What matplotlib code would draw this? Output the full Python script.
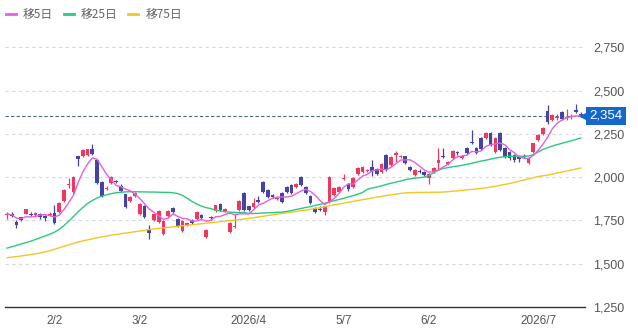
import matplotlib
matplotlib.use("Agg")
import matplotlib.pyplot as plt
import matplotlib.transforms as mtransforms
from matplotlib.lines import Line2D
import numpy as np
import pandas as pd

# daily candles (trading-day index 0..121)
opens = [1780, 1790, 1742, 1768, 1790, 1790, 1782, 1790, 1775, 1782,
         1795, 1800, 1862, 1955, 1913, 2120, 2122, 2128, 2160, 2098,
         1970, 1932, 1965, 1980, 1950, 1900, 1862, 1892, 1788, 1832,
         1694, 1752, 1740, 1671, 1776, 1821, 1758, 1690, 1724, 1745,
         1758, 1780, 1655, 1768, 1805, 1844, 1806, 1683, 1712, 1810,
         1908, 1832, 1828, 1867, 1971, 1925, 1895, 1876, 1908, 1942,
         1954, 1942, 2000, 1942, 1890, 1821, 1818, 1798, 1856, 1896,
         1913, 1990, 1960, 1942, 2017, 2030, 2036, 2058, 2046, 2030,
         2127, 2070, 2128, 2116, 2120, 2058, 2012, 2038, 2030, 1996,
         2030, 2080, 2120, 2075, 2110, 2145, 2112, 2167, 2200, 2167,
         2225, 2225, 2254, 2145, 2254, 2167, 2144, 2127, 2114, 2124,
         2080, 2144, 2213, 2248, 2380, 2330, 2340, 2375, 2342, 2348,
         2386, 2362]
closes = [1788, 1778, 1725, 1750, 1815, 1782, 1792, 1768, 1762, 1788,
          1735, 1850, 1925, 1962, 2000, 2105, 2155, 2160, 2132, 1965,
          1890, 1938, 2000, 1970, 1922, 1828, 1885, 1906, 1844, 1770,
          1677, 1786, 1804, 1746, 1804, 1798, 1717, 1746, 1734, 1737,
          1798, 1765, 1694, 1762, 1838, 1810, 1815, 1735, 1718, 1862,
          1812, 1812, 1850, 1858, 1913, 1886, 1886, 1882, 1858, 1914,
          1910, 1960, 1955, 1910, 1852, 1800, 1812, 1832, 2000, 1937,
          1942, 1998, 1930, 1995, 2052, 2058, 2044, 2036, 2018, 2075,
          2040, 2115, 2138, 2124, 2082, 2042, 2040, 2032, 2012, 2017,
          2052, 2098, 2114, 2088, 2150, 2138, 2120, 2138, 2196, 2140,
          2162, 2254, 2186, 2225, 2157, 2116, 2110, 2100, 2106, 2116,
          2110, 2196, 2242, 2283, 2318, 2358, 2350, 2336, 2350, 2356,
          2375, 2354]
highs = [1800, 1800, 1752, 1772, 1818, 1800, 1798, 1795, 1780, 1800,
         1840, 1855, 1930, 1995, 2005, 2125, 2165, 2165, 2190, 2105,
         1975, 1950, 2005, 1985, 1958, 1905, 1890, 1912, 1850, 1840,
         1725, 1790, 1810, 1750, 1810, 1830, 1765, 1752, 1740, 1760,
         1802, 1785, 1700, 1775, 1842, 1850, 1822, 1740, 1785, 1866,
         1912, 1835, 1880, 1890, 1975, 1930, 1900, 1888, 1912, 1948,
         1960, 1965, 2005, 1948, 1895, 1826, 1835, 1836, 2005, 1942,
         1948, 2020, 1965, 2000, 2060, 2062, 2050, 2098, 2052, 2080,
         2132, 2120, 2150, 2130, 2125, 2062, 2045, 2045, 2035, 2022,
         2058, 2170, 2168, 2095, 2155, 2150, 2126, 2172, 2271, 2172,
         2230, 2260, 2260, 2230, 2260, 2172, 2150, 2132, 2125, 2135,
         2115, 2200, 2248, 2290, 2415, 2365, 2362, 2385, 2395, 2365,
         2420, 2375]
lows = [1760, 1770, 1708, 1745, 1785, 1775, 1770, 1760, 1745, 1775,
        1730, 1795, 1855, 1935, 1905, 2065, 2115, 2120, 2128, 1960,
        1885, 1925, 1958, 1965, 1915, 1822, 1855, 1888, 1782, 1765,
        1642, 1745, 1735, 1665, 1770, 1795, 1712, 1685, 1718, 1730,
        1752, 1760, 1648, 1755, 1800, 1805, 1800, 1678, 1705, 1805,
        1805, 1805, 1822, 1850, 1908, 1880, 1880, 1870, 1852, 1908,
        1905, 1938, 1950, 1905, 1845, 1795, 1805, 1780, 1850, 1890,
        1908, 1982, 1922, 1938, 2012, 2025, 2030, 2006, 2012, 2024,
        2035, 2064, 2085, 2110, 2075, 2035, 2006, 2025, 2005, 1962,
        2024, 2050, 2108, 2068, 2105, 2130, 2105, 2132, 2190, 2134,
        2155, 2220, 2180, 2140, 2150, 2110, 2100, 2085, 2090, 2108,
        2074, 2138, 2208, 2243, 2305, 2322, 2330, 2330, 2332, 2338,
        2368, 2345]

# 25-day and 75-day averages
ma25 = [1590, 1598, 1606, 1614, 1622, 1630, 1640, 1650, 1660, 1670,
        1682, 1698, 1720, 1745, 1772, 1800, 1825, 1848, 1865, 1880,
        1890, 1898, 1905, 1910, 1913, 1915, 1916, 1916, 1915, 1915,
        1914, 1914, 1913, 1912, 1912, 1910, 1905, 1895, 1878, 1860,
        1845, 1833, 1824, 1818, 1810, 1804, 1800, 1798, 1796, 1795,
        1796, 1790, 1790, 1791, 1793, 1794, 1795, 1797, 1798, 1802,
        1807, 1813, 1819, 1825, 1830, 1837, 1843, 1849, 1857, 1864,
        1871, 1878, 1886, 1893, 1902, 1912, 1930, 1937, 1943, 1950,
        1958, 1965, 1971, 1978, 1985, 1990, 1994, 1997, 2000, 2010,
        2025, 2040, 2050, 2055, 2060, 2064, 2068, 2074, 2080, 2087,
        2093, 2098, 2104, 2110, 2115, 2118, 2120, 2121, 2121, 2121,
        2122, 2130, 2145, 2160, 2170, 2180, 2188, 2195, 2203, 2210,
        2218, 2226]
ma75 = [1535, 1538, 1541, 1545, 1549, 1553, 1557, 1562, 1568, 1575,
        1583, 1592, 1600, 1609, 1617, 1625, 1632, 1638, 1644, 1650,
        1655, 1660, 1665, 1669, 1673, 1677, 1681, 1685, 1689, 1693,
        1697, 1701, 1704, 1707, 1710, 1713, 1716, 1719, 1722, 1725,
        1728, 1731, 1734, 1737, 1740, 1743, 1746, 1749, 1752, 1755,
        1758, 1762, 1766, 1770, 1774, 1778, 1782, 1786, 1790, 1794,
        1798, 1802, 1806, 1809, 1814, 1819, 1824, 1829, 1835, 1840,
        1845, 1850, 1855, 1860, 1865, 1870, 1875, 1880, 1885, 1889,
        1894, 1898, 1902, 1906, 1909, 1910, 1911, 1912, 1912, 1912,
        1913, 1913, 1914, 1916, 1919, 1921, 1924, 1927, 1929, 1932,
        1935, 1938, 1943, 1948, 1953, 1958, 1963, 1970, 1976, 1983,
        1990, 1997, 2003, 2008, 2012, 2017, 2024, 2029, 2035, 2041,
        2047, 2053]

tick_pos = [10, 28, 51, 71, 89, 112]
tick_labels = ["2/2", "3/2", "2026/4", "5/7", "6/2", "2026/7"]
y_ticks = [1250, 1500, 1750, 2000, 2250, 2500, 2750]
last_price = 2354

up_col = "#f2375c"
down_col = "#4544a3"
c_ma5 = "#e35fe3"
c_ma25 = "#2cc97c"
c_ma75 = "#f5c524"

plt.rcParams['font.family'] = ['Liberation Sans', 'Noto Sans CJK JP', 'DejaVu Sans']

o = np.array(opens, float)
c = np.array(closes, float)
h = np.array(highs, float)
l = np.array(lows, float)
x = np.arange(len(o))
ma5 = pd.Series(c).rolling(5, min_periods=1).mean()

fig = plt.figure(figsize=(6.38, 3.34), dpi=100)
W, H = 638, 334
ax = fig.add_axes([5 / W, (H - 307) / H, 580 / W, (307 - 30) / H])

# gridlines
for yt in y_ticks[1:]:
    ax.axhline(yt, color="#d9d9d9", lw=0.8, ls=(0, (3, 3)), zorder=0)

up = c >= o
cols = np.where(up, up_col, down_col)
ax.vlines(x, l, h, colors=cols, lw=0.9, zorder=2)
body_h = np.maximum(np.abs(c - o), 6)
body_b = np.minimum(o, c) - (body_h - np.abs(c - o)) / 2
ax.bar(x, body_h, bottom=body_b, width=0.78, color=cols, lw=0, zorder=3)

ax.plot(x, ma75, color=c_ma75, lw=1.0, zorder=4)
ax.plot(x, ma25, color=c_ma25, lw=1.0, zorder=4)
ax.plot(x, ma5, color=c_ma5, lw=1.0, zorder=5)

ax.axhline(last_price, color="#4d6a7d", lw=0.8, ls=(0, (3, 2)), zorder=1)

ax.set_xlim(-0.42, 121.9)
ax.set_ylim(1250, 2850)

ax.set_xticks(tick_pos)
ax.set_xticklabels(tick_labels)
ax.set_yticks(y_ticks)
ax.set_yticklabels([f"{v:,}" for v in y_ticks])
ax.yaxis.tick_right()
ax.tick_params(axis="both", length=0, labelsize=9, labelcolor="#555555")
ax.tick_params(axis="x", pad=6, labelsize=8.5)
ax.tick_params(axis="y", pad=6)
for s in ["top", "left", "right"]:
    ax.spines[s].set_visible(False)
ax.spines["bottom"].set_color("#333333")
ax.spines["bottom"].set_linewidth(1.0)

# last price tag
trans = mtransforms.blended_transform_factory(ax.transAxes, ax.transData)
ax.plot([1.0], [last_price], marker="<", ms=7, color="#1467cc",
        transform=trans, clip_on=False, zorder=6)
ax.text(1.008, last_price, f"{last_price:,}", transform=trans, color="white",
        fontsize=9.5, va="center", ha="left", zorder=7,
        bbox=dict(boxstyle="square,pad=0.25", fc="#1467cc", ec="none"))

handles = [Line2D([], [], color=c_ma5, lw=2),
           Line2D([], [], color=c_ma25, lw=2),
           Line2D([], [], color=c_ma75, lw=2)]
leg = fig.legend(handles, ["移5日", "移25日", "移75日"], ncol=3, loc="upper left",
                 bbox_to_anchor=(6 / W, 1 - 8 / H), frameon=False, borderpad=0,
                 borderaxespad=0, handlelength=0.85, handletextpad=0.6,
                 columnspacing=0.9, prop={"family": ["Noto Sans CJK JP"], "size": 8.5})
for t in leg.get_texts():
    t.set_color("#666666")

fig.savefig("out.png", dpi=100)
